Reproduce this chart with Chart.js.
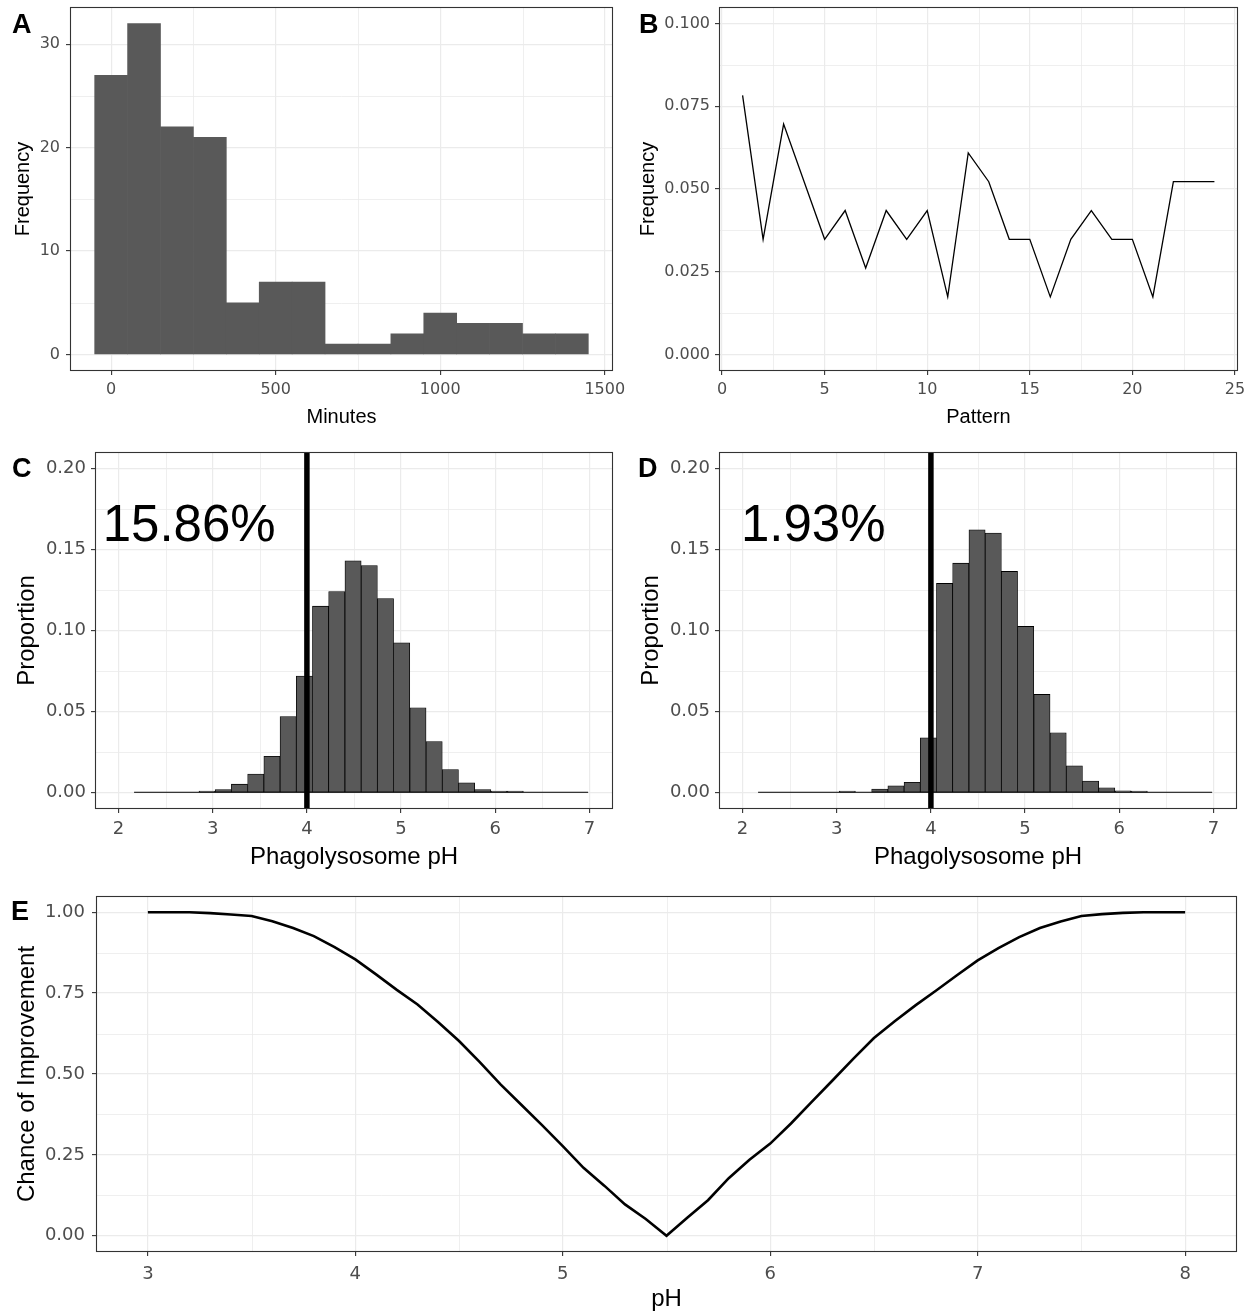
<!DOCTYPE html>
<html>
<head>
<meta charset="utf-8">
<title>Phagolysosome pH figure</title>
<script src="https://cdn.jsdelivr.net/npm/chart.js@4.4.1/dist/chart.umd.min.js"></script>
<style>
  body { margin: 0; background: #fff; }
  #figure { position: relative; width: 1251px; height: 1316px; background: #fff; }
  #figure canvas { position: absolute; }
  .tag { position: absolute; font: bold 27px 'Liberation Sans', Arial, sans-serif; line-height: 27px; color: #000; }
</style>
</head>
<body>
<div id="figure">
  <canvas id="panelA" width="625" height="440" style="left:0px;top:0px;width:625px;height:440px"></canvas>
  <canvas id="panelB" width="626" height="440" style="left:625px;top:0px;width:626px;height:440px"></canvas>
  <canvas id="panelC" width="625" height="440" style="left:0px;top:440px;width:625px;height:440px"></canvas>
  <canvas id="panelD" width="626" height="440" style="left:625px;top:440px;width:626px;height:440px"></canvas>
  <canvas id="panelE" width="1251" height="436" style="left:0px;top:880px;width:1251px;height:436px"></canvas>
  <div class="tag" style="left:12px;top:11px">A</div>
  <div class="tag" style="left:639px;top:11px">B</div>
  <div class="tag" style="left:12px;top:455px">C</div>
  <div class="tag" style="left:638px;top:455px">D</div>
  <div class="tag" style="left:11px;top:898px">E</div>
</div>
<script>

// --- A: minutes histogram (100 min bins, centred) ---
var minuteBins   = [0, 100, 200, 300, 400, 500, 600, 700, 800, 900, 1000, 1100, 1200, 1300, 1400];
var minuteCounts = [27, 32, 22, 21, 5, 7, 7, 1, 1, 2, 4, 3, 3, 2, 2];

// --- B: frequency per pattern ---
var patternIds  = [1, 2, 3, 4, 5, 6, 7, 8, 9, 10, 11, 12, 13, 14, 15, 16, 17, 18, 19, 20, 21, 22, 23, 24];
var patternFreq = [0.0783, 0.0348, 0.0696, 0.0522, 0.0348, 0.0435, 0.0261, 0.0435, 0.0348, 0.0435, 0.0174, 0.0609,
                   0.0522, 0.0348, 0.0348, 0.0174, 0.0348, 0.0435, 0.0348, 0.0348, 0.0174, 0.0522, 0.0522, 0.0522];

// --- C / D: phagolysosome pH distributions (bin centres) ---
var phBins  = [2.251, 2.423, 2.595, 2.768, 2.940, 3.112, 3.284, 3.457, 3.629, 3.801, 3.973, 4.145, 4.317, 4.490,
               4.662, 4.834, 5.006, 5.179, 5.351, 5.523, 5.695, 5.867, 6.039, 6.212, 6.384, 6.556, 6.728, 6.900];
var phPropC = [0, 0, 0, 0, 0.001, 0.002, 0.0053, 0.0115, 0.0225, 0.047, 0.0719, 0.115, 0.124, 0.1429,
               0.140, 0.1197, 0.0924, 0.0524, 0.0316, 0.0143, 0.0061, 0.002, 0.001, 0.001, 0, 0, 0, 0];
var phPropD = [0, 0, 0, 0, 0, 0.001, 0, 0.0023, 0.0043, 0.0064, 0.0339, 0.129, 0.1415, 0.162,
               0.160, 0.1364, 0.1025, 0.0606, 0.037, 0.0166, 0.0072, 0.0031, 0.0012, 0.001, 0, 0, 0, 0];
var phCutoff = 4;
var pctBelowC = '15.86%';
var pctBelowD = '1.93%';

// --- E: chance of improvement vs pH ---
var phGrid = [3.0, 3.1, 3.2, 3.3, 3.4, 3.5, 3.6, 3.7, 3.8, 3.9, 4.0, 4.1, 4.2, 4.3, 4.4, 4.5, 4.6,
              4.7, 4.8, 4.9, 5.0, 5.1, 5.2, 5.3, 5.4, 5.5, 5.6, 5.7, 5.8, 5.9, 6.0, 6.1, 6.2, 6.3,
              6.4, 6.5, 6.6, 6.7, 6.8, 6.9, 7.0, 7.1, 7.2, 7.3, 7.4, 7.5, 7.6, 7.7, 7.8, 7.9, 8.0];
var improveChance = [1.000, 1.000, 1.000, 0.997, 0.993, 0.988, 0.972, 0.951, 0.926, 0.892, 0.854, 0.808, 0.760,
                     0.715, 0.660, 0.602, 0.537, 0.468, 0.405, 0.342, 0.277, 0.210, 0.155, 0.097, 0.052, 0.000,
                     0.056, 0.110, 0.178, 0.235, 0.285, 0.347, 0.414, 0.480, 0.547, 0.611, 0.663, 0.712, 0.758,
                     0.805, 0.851, 0.889, 0.923, 0.951, 0.971, 0.988, 0.994, 0.998, 1.000, 1.000, 1.000];

// tick values
var minuteTicks  = [0, 500, 1000, 1500];
var countTicks   = [0, 10, 20, 30];
var patternTicks = [0, 5, 10, 15, 20, 25];
var freqTicks    = [0, 0.025, 0.05, 0.075, 0.1];
var phTicks      = [2, 3, 4, 5, 6, 7];
var propTicks    = [0, 0.05, 0.1, 0.15, 0.2];
var phTicksE     = [3, 4, 5, 6, 7, 8];
var chanceTicks  = [0, 0.25, 0.5, 0.75, 1];

var FONT = "'Liberation Sans', Arial, sans-serif";
var TICK_FONT = "'DejaVu Sans', sans-serif";
Chart.defaults.font.family = FONT;

function toPoints(xs, ys) {
  return xs.map(function(x, i) { return {x: x, y: ys[i]}; });
}

// ggplot-ish axis: fixed ticks, fixed box size, grey labels
function linearAxis(s) {
  return {
    type: 'linear',
    min: s.min,
    max: s.max,
    offset: false,
    afterBuildTicks: function(scale) {
      scale.ticks = s.ticks.map(function(v) { return {value: v}; });
    },
    afterFit: function(scale) {
      if (s.width) scale.width = s.width;
      if (s.height) scale.height = s.height;
      scale.paddingLeft = 0; scale.paddingRight = 0;
      scale.paddingTop = 0; scale.paddingBottom = 0;
    },
    grid: {color: '#EBEBEB', lineWidth: 1.2, tickLength: 4, tickColor: '#333333', tickWidth: 1.1, offset: false},
    border: {display: false},
    ticks: {
      color: '#4D4D4D',
      padding: s.tickPad,
      autoSkip: false,
      maxRotation: 0,
      font: {family: TICK_FONT, size: s.tickSize},
      callback: function(v) { return Number(v).toFixed(s.digits); }
    },
    title: {display: true, text: s.title, color: '#000', font: {family: FONT, size: s.titleSize}, padding: s.titlePad}
  };
}

// minor grid, panel border, histogram baseline, cut-off line and percentage label
function panelDeco(spec) {
  return {
    id: 'panelDeco',
    beforeDatasetsDraw: function(chart) {
      var ctx = chart.ctx, a = chart.chartArea;
      var xs = chart.scales.x, ys = chart.scales.y;
      ctx.save();
      ctx.strokeStyle = '#EBEBEB';
      ctx.lineWidth = 0.8;
      spec.minorX.forEach(function(v) {
        var px = Math.round(xs.getPixelForValue(v)) + 0.5;
        ctx.beginPath(); ctx.moveTo(px, a.top); ctx.lineTo(px, a.bottom); ctx.stroke();
      });
      spec.minorY.forEach(function(v) {
        var py = Math.round(ys.getPixelForValue(v)) + 0.5;
        ctx.beginPath(); ctx.moveTo(a.left, py); ctx.lineTo(a.right, py); ctx.stroke();
      });
      ctx.restore();
    },
    afterDatasetsDraw: function(chart) {
      var ctx = chart.ctx, a = chart.chartArea;
      var xs = chart.scales.x, ys = chart.scales.y;
      ctx.save();
      if (spec.baseline) {
        // outline along zero under every bin, empty ones included
        var bars = chart.getDatasetMeta(0).data;
        var first = bars[0], last = bars[bars.length - 1];
        var y0 = ys.getPixelForValue(0) - 0.5;
        ctx.strokeStyle = '#000';
        ctx.lineWidth = 1;
        ctx.beginPath();
        ctx.moveTo(first.x - first.width / 2, y0);
        ctx.lineTo(last.x + last.width / 2, y0);
        ctx.stroke();
      }
      if (spec.vline !== undefined) {
        var vx = xs.getPixelForValue(spec.vline);
        ctx.strokeStyle = '#000';
        ctx.lineWidth = 5.5;
        ctx.beginPath(); ctx.moveTo(vx, a.top); ctx.lineTo(vx, a.bottom); ctx.stroke();
      }
      if (spec.label) {
        ctx.fillStyle = '#000';
        ctx.font = '51px ' + FONT;
        ctx.textAlign = 'center';
        ctx.textBaseline = 'middle';
        ctx.fillText(spec.label.text, xs.getPixelForValue(spec.label.x), ys.getPixelForValue(spec.label.y));
      }
      ctx.strokeStyle = '#333333';
      ctx.lineWidth = 1.1;
      ctx.strokeRect(Math.round(a.left) + 0.5, Math.round(a.top) + 0.5,
                     Math.round(a.right - a.left) - 1, Math.round(a.bottom - a.top) - 1);
      ctx.restore();
    }
  };
}

function baseOptions(pad, xAxis, yAxis) {
  return {
    responsive: false,
    maintainAspectRatio: false,
    animation: false,
    devicePixelRatio: 1,
    layout: {padding: {left: 0, top: pad.top, right: pad.right, bottom: 0}},
    plugins: {legend: {display: false}, tooltip: {enabled: false}},
    scales: {x: xAxis, y: yAxis}
  };
}

// A
new Chart(document.getElementById('panelA'), {
  type: 'bar',
  data: {datasets: [{
    data: toPoints(minuteBins, minuteCounts),
    backgroundColor: '#595959',
    borderWidth: 0,
    barPercentage: 1,
    categoryPercentage: 1,
    grouped: false
  }]},
  options: baseOptions({top: 7, right: 12},
    linearAxis({min: -125, max: 1525, ticks: minuteTicks, height: 69, tickPad: 5, tickSize: 16, digits: 0,
                title: 'Minutes', titleSize: 20, titlePad: {bottom: 11}}),
    linearAxis({min: -1.6, max: 33.6, ticks: countTicks, width: 70, tickPad: 6, tickSize: 16, digits: 0,
                title: 'Frequency', titleSize: 20, titlePad: {top: 11.4}})),
  plugins: [panelDeco({minorX: [250, 750, 1250], minorY: [5, 15, 25]})]
});

// B
new Chart(document.getElementById('panelB'), {
  type: 'line',
  data: {datasets: [{
    data: toPoints(patternIds, patternFreq),
    borderColor: '#000',
    borderWidth: 1.3,
    pointRadius: 0,
    tension: 0,
    fill: false
  }]},
  options: baseOptions({top: 7, right: 13},
    linearAxis({min: -0.15, max: 25.15, ticks: patternTicks, height: 69, tickPad: 5, tickSize: 16, digits: 0,
                title: 'Pattern', titleSize: 20, titlePad: {bottom: 11}}),
    linearAxis({min: -0.005, max: 0.105, ticks: freqTicks, width: 94, tickPad: 5, tickSize: 16, digits: 3,
                title: 'Frequency', titleSize: 20, titlePad: {top: 11.4}})),
  plugins: [panelDeco({minorX: [2.5, 7.5, 12.5, 17.5, 22.5], minorY: [0.0125, 0.0375, 0.0625, 0.0875]})]
});

// C and D share the same layout
function phHistogram(id, props, pct, yWidth, padRight, yTitlePad) {
  return new Chart(document.getElementById(id), {
    type: 'bar',
    data: {datasets: [{
      data: toPoints(phBins, props),
      backgroundColor: '#595959',
      borderColor: '#000',
      borderWidth: 0.8,
      borderSkipped: false,
      barPercentage: 1,
      categoryPercentage: 1,
      grouped: false
    }]},
    options: baseOptions({top: 12, right: padRight},
      linearAxis({min: 1.75, max: 7.25, ticks: phTicks, height: 71, tickPad: 6, tickSize: 18, digits: 0,
                  title: 'Phagolysosome pH', titleSize: 24, titlePad: {bottom: 8.6}}),
      linearAxis({min: -0.01, max: 0.21, ticks: propTicks, width: yWidth, tickPad: 5, tickSize: 18, digits: 2,
                  title: 'Proportion', titleSize: 24, titlePad: {top: yTitlePad}})),
    plugins: [panelDeco({minorX: [2.5, 3.5, 4.5, 5.5, 6.5], minorY: [0.025, 0.075, 0.125, 0.175],
                         baseline: true, vline: phCutoff, label: {text: pct, x: 2.75, y: 0.164}})]
  });
}
phHistogram('panelC', phPropC, pctBelowC, 95, 12, 12.5);
phHistogram('panelD', phPropD, pctBelowD, 94, 14, 12);

// E
new Chart(document.getElementById('panelE'), {
  type: 'line',
  data: {datasets: [{
    data: toPoints(phGrid, improveChance),
    borderColor: '#000',
    borderWidth: 2.6,
    pointRadius: 0,
    tension: 0,
    fill: false
  }]},
  options: baseOptions({top: 16, right: 14},
    linearAxis({min: 2.75, max: 8.25, ticks: phTicksE, height: 64, tickPad: 8, tickSize: 18, digits: 0,
                title: 'pH', titleSize: 24, titlePad: {bottom: 2.6}}),
    linearAxis({min: -0.05, max: 1.05, ticks: chanceTicks, width: 96, tickPad: 7, tickSize: 18, digits: 2,
                title: 'Chance of Improvement', titleSize: 24, titlePad: {top: 12.6}})),
  plugins: [panelDeco({minorX: [3.5, 4.5, 5.5, 6.5, 7.5], minorY: [0.125, 0.375, 0.625, 0.875]})]
});

</script>
</body>
</html>
